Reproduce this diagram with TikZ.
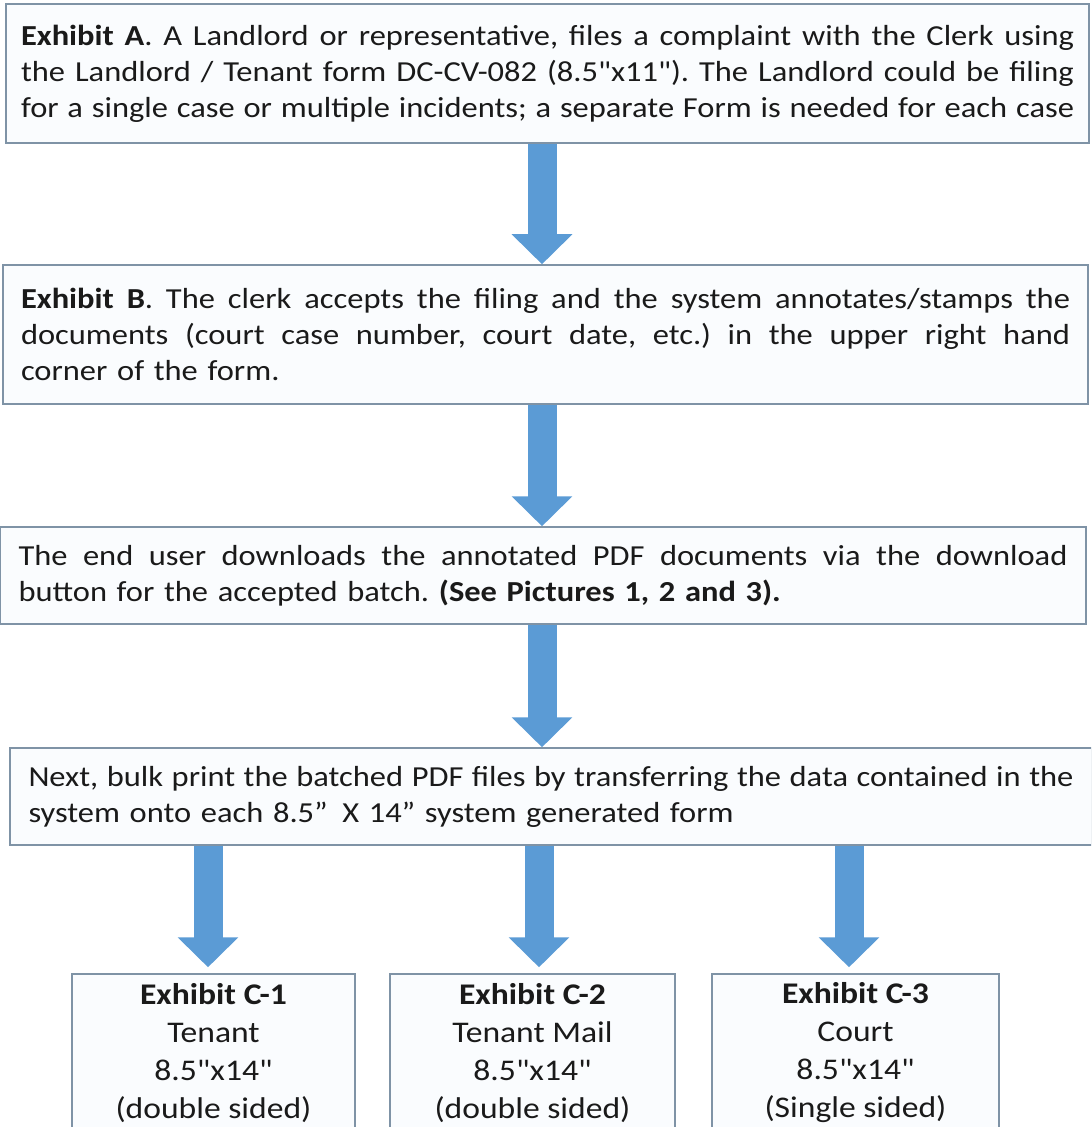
\documentclass[tikz,border=0pt]{standalone}
\usepackage{fontspec}
\setmainfont{Carlito}[Ligatures=TeXOff, FakeStretch=1.12]
\usepackage{tikz}
\usetikzlibrary{arrows.meta}
\usepackage{xcolor}

\definecolor{boxline}{HTML}{7F93A6}
\definecolor{boxfill}{HTML}{FAFCFE}
\definecolor{arrowblue}{HTML}{5B9BD5}
\definecolor{textdark}{HTML}{1A1A1A}

\frenchspacing
\newcommand{\fullline}[1]{\hbox to \hsize{\spaceskip=\fontdimen2\font plus 1fil minus .35\fontdimen2\font #1}}
\newcommand{\lastline}[1]{\hbox to \hsize{#1\hfil}}

\begin{document}
\begin{tikzpicture}[x=0.5pt, y=-0.5pt,
    stepbox/.style={rectangle, draw=boxline, fill=boxfill, line width=0.75pt,
        inner sep=0pt, text=textdark, font=\fontsize{14.5}{18}\selectfont},
    exhibit/.style={stepbox, align=center, minimum height=79pt,
        font=\fontsize{15}{19}\selectfont},
    flow/.style={arrowblue, line width=14.5pt,
        -{Triangle[width=29.5pt, length=15pt]}}]
    % Rahmen
    \useasboundingbox (0,0) rectangle (1091,1127);
    \clip (0,0) rectangle (1091,1127);
    % Schritte
    \node[stepbox, minimum width=541.5pt, minimum height=69.5pt, text width=526.5pt]
        (boxA) at (547.5,73.5) {%
        \fullline{\textbf{Exhibit A}. A Landlord or representative, files a complaint with the Clerk using}
        \fullline{the Landlord / Tenant form DC-CV-082 (8.5"x11"). The Landlord could be filing}
        \fullline{for a single case or multiple incidents; a separate Form is needed for each case}};
    \node[stepbox, minimum width=542.5pt, minimum height=69.5pt, text width=524.5pt]
        (boxB) at (545.5,334.5) {%
        \fullline{\textbf{Exhibit B}. The clerk accepts the filing and the system annotates/stamps the}
        \fullline{documents (court case number, court date, etc.) in the upper right hand}
        \lastline{corner of the form.}};
    \node[stepbox, minimum width=543pt, minimum height=48.5pt, text width=524.5pt]
        (boxC) at (543,575.5) {%
        \fullline{The end user downloads the annotated PDF documents via the download}
        \lastline{button for the accepted batch. \textbf{(See Pictures 1, 2 and 3).}}};
    \node[stepbox, minimum width=541pt, minimum height=48.5pt, text width=522.5pt]
        (boxD) at (551,796.5) {%
        \fullline{Next, bulk print the batched PDF files by transferring the data contained in the}
        \lastline{system onto each 8.5”\enspace X 14” system generated form}};
    % Exhibits C
    \foreach \nm/\cx/\bw/\who/\sided in {1/213.5/141.5/Tenant/(double sided),
            2/532.5/142.5/Tenant Mail/(double sided),
            3/855.5/143.5/Court/(Single sided)} {
        \node[exhibit, minimum width=\bw pt] (exC\nm) at (\cx,1053)
            {\textbf{Exhibit C-\nm}\\ \who\\ 8.5"x14"\\ \sided};
    }
    % Pfeile
    \coordinate (mid) at (542,0);
    \draw[flow] (boxA.south -| mid) -- (boxB.north -| mid);
    \draw[flow] (boxB.south -| mid) -- (boxC.north -| mid);
    \draw[flow] (boxC.south -| mid) -- (boxD.north -| mid);
    \foreach \nm/\ax in {1/208, 2/539, 3/849} {
        \coordinate (col\nm) at (\ax,0);
        \draw[flow, shorten >=3pt] (boxD.south -| col\nm) -- (exC\nm.north -| col\nm);
    }
\end{tikzpicture}
\end{document}
